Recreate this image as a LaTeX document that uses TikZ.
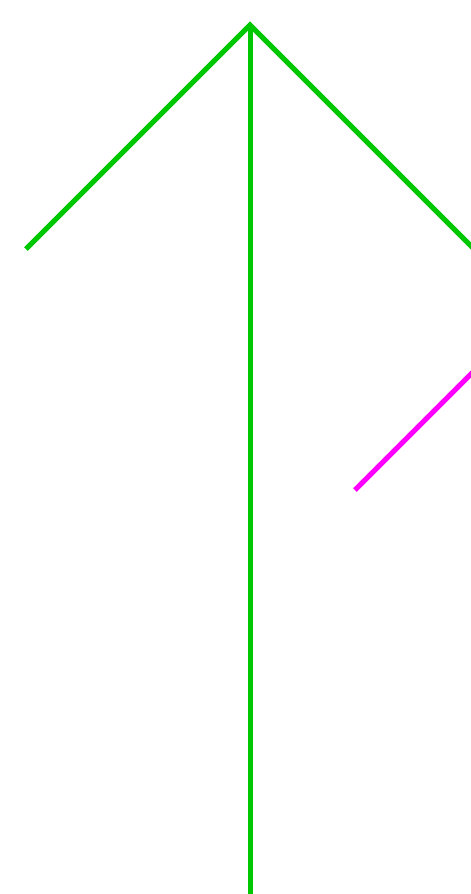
\documentclass[tikz,border=0pt]{standalone}
\definecolor{lgreen}{RGB}{0,200,0}
\definecolor{lmag}{RGB}{255,0,255}
\begin{document}
\begin{tikzpicture}[x=1pt,y=-1pt,
  gline/.style={draw=lgreen,line width=5pt},
  mline/.style={draw=lmag,line width=5pt}]
\useasboundingbox (0,0) rectangle (471,894);
\clip (0,0) rectangle (471,894);
\coordinate (apex) at (250,25);
\coordinate (left) at (26,249);
\coordinate (right) at (490,265);
\coordinate (bottom) at (250,900);
\coordinate (m1) at (355,490);
\coordinate (m2) at (490,355);
\draw[gline,line join=miter] (left) -- (apex) -- (right);
\draw[gline] (apex) -- (bottom);
\draw[mline] (m1) -- (m2);
\end{tikzpicture}
\end{document}
